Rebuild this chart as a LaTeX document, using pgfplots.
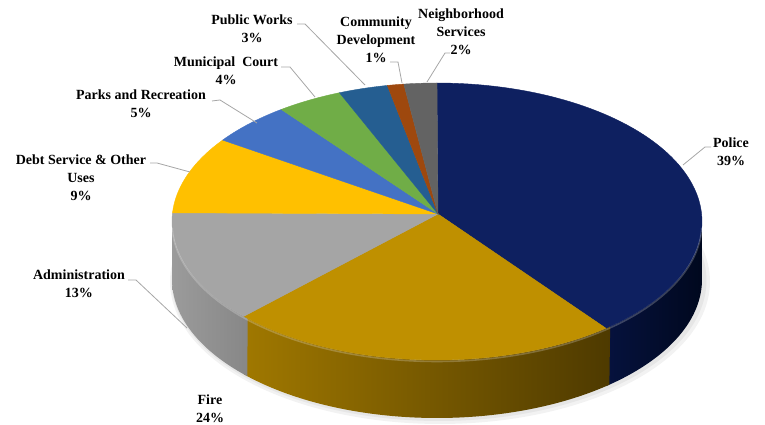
\documentclass[border=0pt]{standalone}
\usepackage{pgfplots}
\pgfplotsset{compat=1.18}
\usepackage{fontspec}
\setmainfont{Liberation Serif}

\definecolor{cPolice}{RGB}{14,32,96}
\definecolor{cFire}{RGB}{191,144,0}
\definecolor{cAdmin}{RGB}{165,165,165}
\definecolor{cDebt}{RGB}{255,192,0}
\definecolor{cParks}{RGB}{68,114,196}
\definecolor{cCourt}{RGB}{112,173,71}
\definecolor{cWorks}{RGB}{37,94,145}
\definecolor{cComm}{RGB}{158,72,14}
\definecolor{cNeigh}{RGB}{99,99,99}
\definecolor{cLeader}{RGB}{166,166,166}
\definecolor{sPoliceL}{RGB}{6,18,62}
\definecolor{sPoliceR}{RGB}{0,8,30}
\definecolor{sFireL}{RGB}{160,120,0}
\definecolor{sFireR}{RGB}{78,58,0}
\definecolor{sAdminL}{RGB}{155,155,155}
\definecolor{sAdminR}{RGB}{135,135,135}

% pie geometry (axis units = pixels of the reference)
\def\CX{437}\def\CY{203.5}\def\RX{265}\def\RY{138.5}
\def\AX{438}\def\AY{211}\def\DEP{58}

\tikzset{lbl/.style={font=\fontsize{10.5}{13.5}\selectfont\bfseries, align=center, text=black, inner sep=0pt}}

% top face of a slice: #1 = cumulative percentage before it, #2 = its value
\newcommand\pieslice[3]{%
  \addplot[fill=#3, draw=#3, line width=0.3pt, samples=80, variable=\t,
    domain={90-3.6*(#1+#2)}:{90-3.6*(#1)}]
    ({\CX+\RX*cos(\t)}, {\CY+\RY*sin(\t)}) -- (axis cs:\AX,\AY) -- cycle;
}
% visible (front) side wall of a slice
\newcommand\pieside[4]{%
  \addplot[draw=none, left color=#3, right color=#4, samples=801, variable=\t,
    domain=0:2]
    ({\CX+\RX*cos(max(90-3.6*(#1+#2),-180)+(min(90-3.6*(#1),0)+1.2-max(90-3.6*(#1+#2),-180))*(min(\t,1)-max(\t-1,0)))},
     {\CY+\RY*sin(max(90-3.6*(#1+#2),-180)+(min(90-3.6*(#1),0)+1.2-max(90-3.6*(#1+#2),-180))*(min(\t,1)-max(\t-1,0)))-\DEP*ifthenelse(\t>1,1,0)}) -- cycle;
}

\begin{document}
\begin{tikzpicture}
\begin{axis}[
  width=573.75pt, height=318.75pt, scale only axis,
  xmin=0, xmax=765, ymin=0, ymax=425,
  hide axis, clip=false,
]
\path (axis cs:0,0) rectangle (axis cs:765,425);

% soft shadow
\addplot[draw=none, fill=black, opacity=0.05, samples=120, domain=-200:20, variable=\t]
  ({\CX+3+(\RX+5)*cos(\t)}, {\CY-\DEP-2+(\RY+4)*sin(\t)}) -- cycle;
\addplot[draw=none, fill=black, opacity=0.05, samples=120, domain=-200:20, variable=\t]
  ({\CX+2+(\RX+2.5)*cos(\t)}, {\CY-\DEP-1+(\RY+2)*sin(\t)}) -- cycle;

% side walls (values: Police 39, Fire 24, Administration 13)
\pieside{0}{39}{sPoliceL}{sPoliceR}
\pieside{39}{24}{sFireL}{sFireR}
\pieside{63}{13}{sAdminL}{sAdminR}

% top faces
\pieslice{0}{39}{cPolice}
\pieslice{39}{24}{cFire}
\pieslice{63}{13}{cAdmin}
\pieslice{76}{9}{cDebt}
\pieslice{85}{5}{cParks}
\pieslice{90}{4}{cCourt}
\pieslice{94}{3}{cWorks}
\pieslice{97}{1}{cComm}
\pieslice{98}{2}{cNeigh}

% rim highlight
\addplot[draw=white, opacity=0.22, line width=1.2pt, samples=120, domain=-178:-2, variable=\t]
  ({\CX+\RX*cos(\t)}, {\CY-1.5+\RY*sin(\t)});

% leader lines
\draw[cLeader, line width=0.6pt] (axis cs:683,260) -- (axis cs:705,278) -- (axis cs:711,278);
\draw[cLeader, line width=0.6pt] (axis cs:128,145) -- (axis cs:136,145) -- (axis cs:187,97);
\draw[cLeader, line width=0.6pt] (axis cs:150,262) -- (axis cs:157,262) -- (axis cs:190,253);
\draw[cLeader, line width=0.6pt] (axis cs:212,324) -- (axis cs:220,325) -- (axis cs:257,302);
\draw[cLeader, line width=0.6pt] (axis cs:281,358) -- (axis cs:290,358) -- (axis cs:315,328);
\draw[cLeader, line width=0.6pt] (axis cs:297,401) -- (axis cs:305,401) -- (axis cs:365,340);
\draw[cLeader, line width=0.6pt] (axis cs:390,363) -- (axis cs:398,363) -- (axis cs:402,342);
\draw[cLeader, line width=0.6pt] (axis cs:450,372) -- (axis cs:445,372) -- (axis cs:427,343);

% labels
\node[lbl] at (axis cs:731,273) {Police\\39\%};
\node[lbl] at (axis cs:210,16) {Fire\\24\%};
\node[lbl] at (axis cs:79,141) {Administration\\13\%};
\node[lbl] at (axis cs:81,247) {Debt Service \& Other\\Uses\\9\%};
\node[lbl] at (axis cs:141,321) {Parks and Recreation\\5\%};
\node[lbl] at (axis cs:226,354) {Municipal~ Court\\4\%};
\node[lbl] at (axis cs:252,396.5) {Public Works\\3\%};
\node[lbl] at (axis cs:376,385) {Community\\Development\\1\%};
\node[lbl] at (axis cs:461,393.5) {Neighborhood\\Services\\2\%};
\end{axis}
\end{tikzpicture}
\end{document}
